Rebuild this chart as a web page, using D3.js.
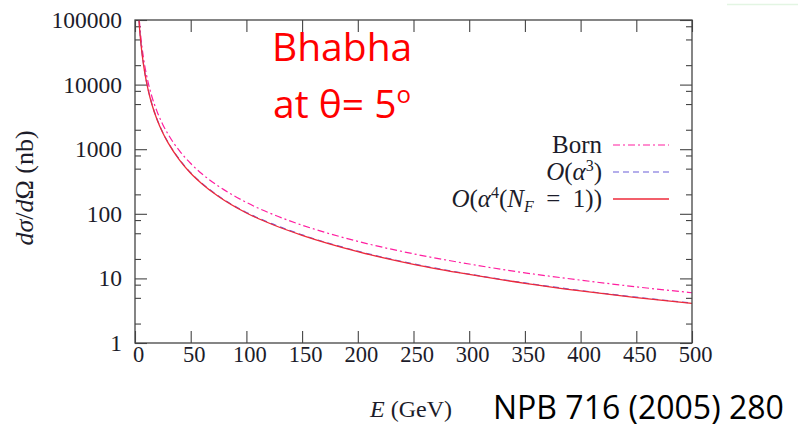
<!DOCTYPE html>
<html><head><meta charset="utf-8">
<script src="https://cdn.jsdelivr.net/npm/d3@7"></script>
<style>body{margin:0;background:#fff}svg{display:block}</style>
</head><body>
<svg id="c" width="798" height="432"></svg>
<script>
// ---- data ----
const energies = [3,4,5,6,8,10,12,15,20,25,30,40,50,60,75,100,125,150,200,250,300,350,400,450,500];
const born   = [167000,94000,60000,41700,23400,15000,10400,6670,3750,2400,1670,940,600,417,267,150,96,66.7,37.5,24,16.7,12.2,9.4,7.4,6.0];
const alpha3 = [142000,79500,49800,34200,18900,11850,8150,5150,2860,1810,1250,690,432,298,188,105,68,47.2,26.4,16.8,11.65,8.5,6.5,5.12,4.15];
const alpha4 = [140000,78000,49000,33600,18500,11600,8000,5050,2800,1780,1230,680,425,293,185,103,66.5,46.5,26,16.5,11.5,8.4,6.4,5.05,4.1];
const xTicks = [0,50,100,150,200,250,300,350,400,450,500];
const yTicks = [1,10,100,1000,10000,100000];
const yTickLabels = ["1","10","100","1000","10000","100000"];
const seriesNames = ["Born","O(α3)","O(α4(NF = 1))"];

const svg = d3.select("#c");
const M = {l:135, r:692, t:20, b:343};
const x = d3.scaleLinear().domain([0,500]).range([M.l, M.r]);
const y = d3.scaleLog().domain([1,100000]).range([M.b, M.t]);

const minorTicks = [];
yTicks.slice(0,-1).forEach(d => [2,5,8].forEach(m => minorTicks.push(d*m)));

// faint artifact line top-right
svg.append("line").attr("x1",727).attr("x2",798).attr("y1",4.5).attr("y2",4.5)
  .attr("stroke","#e3f5e3").attr("stroke-width",1.5);

const axisColor = "#444";
const labelFont = "'Liberation Serif','DejaVu Serif',serif";

function styleAxis(g, fs){
  g.select(".domain").remove();
  g.selectAll(".tick line").attr("stroke",axisColor).attr("stroke-width",1.1);
  g.selectAll(".tick text").attr("fill","#1c1c2a").attr("font-family",labelFont).attr("font-size",fs||22);
}

// major/minor ticks
svg.append("g").attr("transform",`translate(${M.l},0)`)
  .call(d3.axisLeft(y).tickValues(yTicks).tickSize(-12).tickPadding(13).tickFormat((d,i)=>yTickLabels[i]))
  .call(g=>styleAxis(g,23.5));
svg.append("g").attr("transform",`translate(${M.l},0)`)
  .call(d3.axisLeft(y).tickValues(minorTicks).tickSize(-6).tickFormat(""))
  .call(styleAxis);
svg.append("g").attr("transform",`translate(${M.r},0)`)
  .call(d3.axisRight(y).tickValues(yTicks).tickSize(-12).tickFormat(""))
  .call(styleAxis);
svg.append("g").attr("transform",`translate(${M.r},0)`)
  .call(d3.axisRight(y).tickValues(minorTicks).tickSize(-6).tickFormat(""))
  .call(styleAxis);
svg.append("g").attr("transform",`translate(0,${M.b})`)
  .call(d3.axisBottom(x).tickValues(xTicks).tickSize(-12).tickPadding(3).tickFormat(d3.format("d")))
  .call(g=>styleAxis(g,22.5))
  .selectAll(".tick text").attr("dx",3);
svg.append("g").attr("transform",`translate(0,${M.t})`)
  .call(d3.axisTop(x).tickValues(xTicks).tickSize(-12).tickFormat(""))
  .call(styleAxis);

// clip
svg.append("clipPath").attr("id","clip").append("rect")
  .attr("x",M.l).attr("y",M.t).attr("width",M.r-M.l).attr("height",M.b-M.t);

const line = d3.line().x(d=>x(d[0])).y(d=>y(d[1])).curve(d3.curveMonotoneX);
const series = [
  {vals:born,   color:"#ff1fa0", dash:"7,3,2,3", w:1.2},
  {vals:alpha3, color:"#6a5fd8", dash:"6,4", w:1.2},
  {vals:alpha4, color:"#ee2a3a", dash:null, w:1.3}
];
const plot = svg.append("g").attr("clip-path","url(#clip)");
series.forEach(s=>{
  plot.append("path").datum(energies.map((e,i)=>[e,s.vals[i]]))
    .attr("d",line).attr("fill","none").attr("stroke",s.color)
    .attr("stroke-width",s.w).attr("stroke-dasharray",s.dash);
});

// frame
svg.append("rect").attr("x",M.l).attr("y",M.t).attr("width",M.r-M.l).attr("height",M.b-M.t)
  .attr("fill","none").attr("stroke",axisColor).attr("stroke-width",1.3);

// legend
function mathText(g, xx, yy, parts){
  const t = g.append("text").attr("x",xx).attr("y",yy).attr("text-anchor","end")
    .attr("font-family",labelFont).attr("font-size",25).attr("fill","#1c1c2a");
  parts.forEach(p=>{
    const ts = t.append("tspan").text(p.t);
    if(p.it) ts.attr("font-style","italic");
    if(p.dy) ts.attr("dy",p.dy);
    if(p.fs) ts.attr("font-size",p.fs);
  });
  return t;
}
const legendRows = [
  [{t:seriesNames[0]}],
  [{t:"O",it:1},{t:"("},{t:"α",it:1},{t:"3",dy:-9,fs:16},{t:")",dy:9}],
  [{t:"O",it:1},{t:"("},{t:"α",it:1},{t:"4",dy:-9,fs:16},{t:"(",dy:9},{t:"N",it:1},{t:"F",it:1,dy:5,fs:16},{t:"\u2002=\u20021))",dy:-5}]
];
const legendY = [145, 172, 199];
const lg = svg.append("g");
legendRows.forEach((parts,i)=>{
  mathText(lg, 602, legendY[i]+7.5, parts);
  lg.append("line").attr("x1",613).attr("x2",669).attr("y1",legendY[i]).attr("y2",legendY[i])
    .attr("stroke",series[i].color).attr("stroke-width",series[i].w).attr("stroke-dasharray",series[i].dash);
});

// axis titles
const yl = svg.append("text").attr("transform","translate(33,188) rotate(-90)")
  .attr("text-anchor","middle").attr("font-family",labelFont).attr("font-size",26).attr("fill","#1c1c2a");
yl.append("tspan").attr("font-style","italic").text("dσ");
yl.append("tspan").text("/");
yl.append("tspan").attr("font-style","italic").text("d");
yl.append("tspan").text("Ω (nb)");

const xl = svg.append("text").attr("x",370).attr("y",417)
  .attr("font-family",labelFont).attr("font-size",24).attr("fill","#1c1c2a");
xl.append("tspan").attr("font-style","italic").text("E");
xl.append("tspan").text(" (GeV)");

// annotations
const sans = "'Open Sans','Noto Sans',sans-serif";
svg.append("text").attr("x",272).attr("y",61).attr("font-family",sans).attr("font-size",39)
  .attr("fill","#ff0000").text("Bhabha");
const at = svg.append("text").attr("x",273).attr("y",118).attr("font-family",sans).attr("font-size",39)
  .attr("fill","#ff0000");
at.append("tspan").text("at θ= 5");
at.append("tspan").attr("font-size",24).attr("dy",-15).text("o");

svg.append("text").attr("x",493).attr("y",419).attr("font-family",sans).attr("font-size",32)
  .attr("fill","#000").text("NPB 716 (2005) 280");
</script>
</body></html>
